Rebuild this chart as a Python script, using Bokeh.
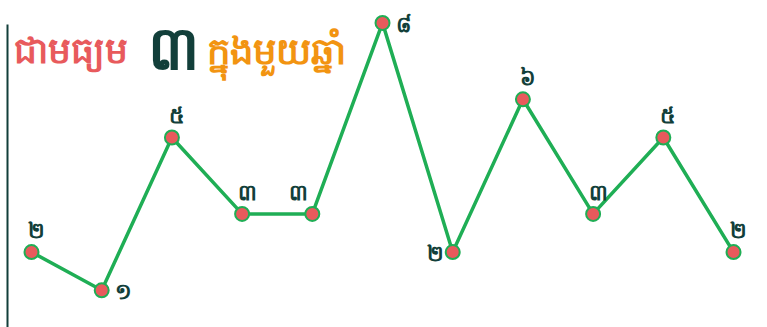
from bokeh.plotting import figure
from bokeh.models import ColumnDataSource, Range1d, Label, FixedTicker
from bokeh.core.properties import value
from bokeh.embed import file_html
from bokeh.resources import INLINE

# ---- data ----
index = list(range(11))
values = [2, 1, 5, 3, 3, 8, 2, 6, 3, 5, 2]
khmer_digits = ["០", "១", "២", "៣", "៤", "៥", "៦", "៧", "៨", "៩"]
labels = [khmer_digits[v] for v in values]
label_place = ["above", "right", "above", "above", "above-left", "right",
               "left", "above", "above", "above", "above"]
title_parts = ["ជាមធ្យម", "៣", "ក្នុងមួយឆ្នាំ"]

# ---- styles ----
GREEN = "#1fae55"
RED = "#e85a5c"
DARK = "#123f3a"
ORANGE = "#f29411"
FONT = "Noto Sans"

place_style = {
    "above": dict(dx=5, dy=-23, align="center", base="alphabetic"),
    "above-left": dict(dx=-14, dy=-23, align="center", base="alphabetic"),
    "right": dict(dx=13, dy=0, align="left", base="middle"),
    "left": dict(dx=-9, dy=0, align="right", base="middle"),
}

src = ColumnDataSource(dict(
    x=index, y=values, label=labels,
    xo=[place_style[k]["dx"] for k in label_place],
    yo=[place_style[k]["dy"] for k in label_place],
    al=[place_style[k]["align"] for k in label_place],
    bl=[place_style[k]["base"] for k in label_place],
))

p = figure(width=767, height=327, output_backend="svg", toolbar_location=None,
           x_range=Range1d(-0.342, 10.484), y_range=Range1d(0.026, 8.586),
           min_border=0, min_border_left=7, outline_line_color=None)
p.background_fill_color = "white"
p.xgrid.visible = False
p.ygrid.visible = False
p.xaxis.visible = False
ya = p.yaxis[0]
ya.ticker = FixedTicker(ticks=[])
ya.axis_line_color = DARK
ya.axis_line_width = 2
ya.major_tick_line_color = None
ya.minor_tick_line_color = None
ya.major_label_text_font_size = "0px"
ya.bounds = (0.026, 7.96)

p.line("x", "y", source=src, line_color=GREEN, line_width=3.5)
p.scatter("x", "y", source=src, size=14, fill_color=RED, line_color=GREEN, line_width=2)
p.text("x", "y", text="label", source=src, x_offset="xo", y_offset="yo",
       text_align="al", text_baseline="bl", text_color=DARK,
       text_font=value(FONT), text_font_size="22px", text_font_style="bold")

p.add_layout(Label(x=6, y=278, x_units="screen", y_units="screen", text=title_parts[0],
                   text_color=RED, text_font=FONT, text_font_size="36px",
                   text_font_style="bold", text_baseline="alphabetic"))
p.add_layout(Label(x=140, y=282, x_units="screen", y_units="screen", text=title_parts[1],
                   text_color=DARK, text_font=FONT, text_font_size="60px",
                   text_font_style="bold", text_baseline="alphabetic"))
p.add_layout(Label(x=199, y=278, x_units="screen", y_units="screen", text=title_parts[2],
                   text_color=ORANGE, text_font=FONT, text_font_size="37px",
                   text_font_style="bold", text_baseline="alphabetic"))

open("out.html", "w").write(file_html(p, INLINE))
